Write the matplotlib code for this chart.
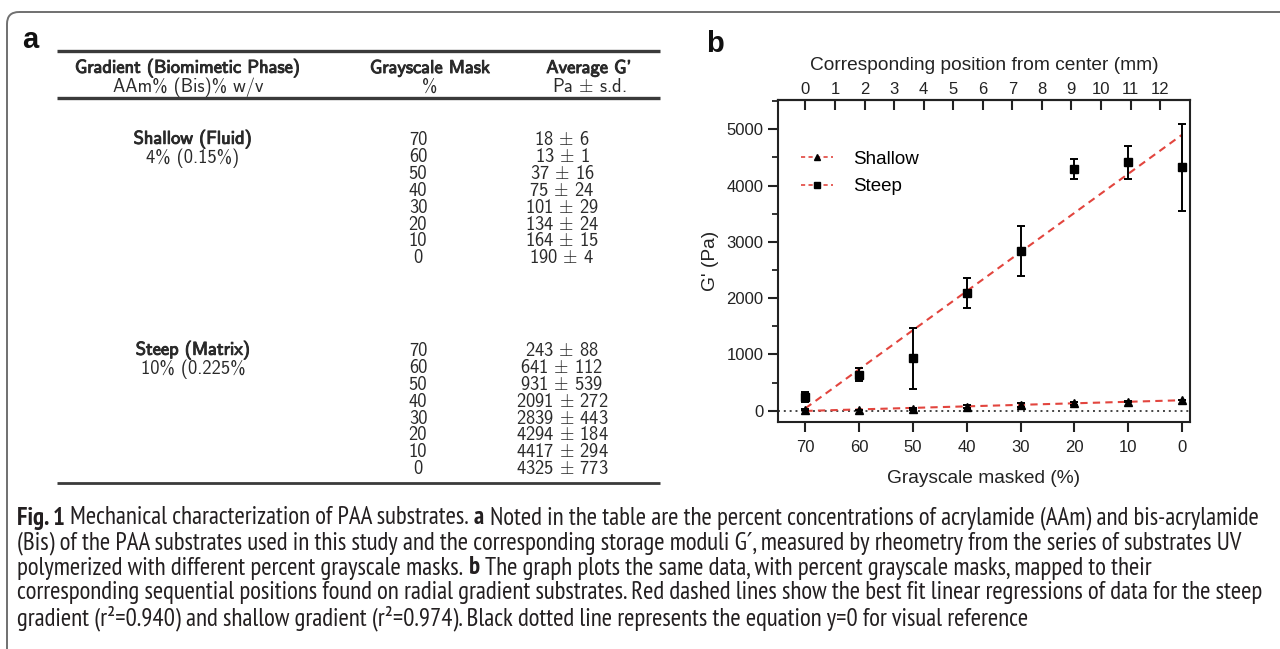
import numpy as np
import matplotlib
matplotlib.use("Agg")
import matplotlib.pyplot as plt
from matplotlib import font_manager
from matplotlib.patches import FancyBboxPatch
from matplotlib.lines import Line2D
import matplotlib.patheffects as pe
from matplotlib.ticker import MultipleLocator

# ---------------- data ----------------
masks = [70, 60, 50, 40, 30, 20, 10, 0]
shallow_mean = [18, 13, 37, 75, 101, 134, 164, 190]
shallow_sd = [6, 1, 16, 24, 29, 24, 15, 4]
steep_mean = [243, 641, 931, 2091, 2839, 4294, 4417, 4325]
steep_sd = [88, 112, 539, 272, 443, 184, 294, 773]
mm_ticks = list(range(0, 13))
y_ticks = [0, 1000, 2000, 3000, 4000, 5000]

header1 = ["Gradient (Biomimetic Phase)", "Grayscale Mask", "Average G'"]
header2 = ["AAm% (Bis)% w/v", "%", r"Pa $\pm$ s.d."]
groups = [("Shallow (Fluid)", "4% (0.15%)"), ("Steep (Matrix)", "10% (0.225%")]

caption_lines = [
    [("Fig. 1", True), ("Mechanical characterization of PAA substrates.", False), ("a", True),
     ("Noted in the table are the percent concentrations of acrylamide (AAm) and bis-acrylamide", False)],
    [("(Bis) of the PAA substrates used in this study and the corresponding storage moduli G\u2032, measured by rheometry from the series of substrates UV", False)],
    [("polymerized with different percent grayscale masks.", False), ("b", True),
     ("The graph plots the same data, with percent grayscale masks, mapped to their", False)],
    [("corresponding sequential positions found on radial gradient substrates. Red dashed lines show the best fit linear regressions of data for the steep", False)],
    [("gradient (r\u00b2=0.940) and shallow gradient (r\u00b2=0.974). Black dotted line represents the equation y=0 for visual reference", False)],
]

# ---------------- fonts ----------------
names = {f.name for f in font_manager.fontManager.ttflist}
cap_font = "Liberation Sans"
for cand in ["PT Sans Narrow", "Roboto Condensed", "Liberation Sans"]:
    if cand in names:
        cap_font = cand
        break
cap_family = [cap_font, "DejaVu Sans"]
tab_font = "cmss10" if "cmss10" in names else "DejaVu Sans"
plt.rcParams["mathtext.fontset"] = "cm"
plt.rcParams["font.family"] = ["Liberation Sans", "DejaVu Sans"]

W, H = 1280, 649
fig = plt.figure(figsize=(W / 100, H / 100), dpi=100)
bg = fig.add_axes([0, 0, 1, 1], zorder=0)
bg.set_xlim(0, W)
bg.set_ylim(H, 0)
bg.axis("off")

# outer rounded frame
bg.add_patch(FancyBboxPatch((7, 12), 1400, 800, boxstyle="round,pad=0,rounding_size=12",
                            ec="#707070", fc="none", lw=1.4))

# panel letters
bg.text(30, 40, "a", fontsize=21, fontweight="bold", ha="center", va="center", color="#111")
bg.text(715, 44, "b", fontsize=21, fontweight="bold", ha="center", va="center", color="#111")

# ---------------- table ----------------
tc = "#2a2a2a"
tfs = 13.3
bold_fx = [pe.withStroke(linewidth=0.7, foreground=tc)]
for y, lw in [(51, 2.4), (98, 2.4), (483, 2.0)]:
    bg.plot([57, 660], [y, y], color="#3a3a3a", lw=lw, solid_capstyle="butt")
col_x = [188, 430, 589]
for x, s in zip(col_x, header1):
    bg.text(x, 68, s, fontfamily=tab_font, fontsize=tfs, ha="center", va="center", color=tc,
            path_effects=bold_fx)
for x, s in zip(col_x, header2):
    bg.text(x, 87, s, fontfamily=tab_font, fontsize=tfs, ha="center", va="center", color=tc)

group_y0 = [140, 351]
row_dy = 16.9
for (gname, gconc), y0, means, sds in zip(groups, group_y0,
                                          [shallow_mean, steep_mean], [shallow_sd, steep_sd]):
    bg.text(193, y0 - 1, gname, fontfamily=tab_font, fontsize=tfs, ha="center", va="center",
            color=tc, path_effects=bold_fx)
    bg.text(193, y0 + row_dy + 1, gconc, fontfamily=tab_font, fontsize=tfs, ha="center",
            va="center", color=tc)
    for i, (m, mu, sd) in enumerate(zip(masks, means, sds)):
        y = y0 + i * row_dy
        bg.text(418, y, str(m), fontfamily=tab_font, fontsize=tfs, ha="center", va="center", color=tc)
        bg.text(562, y, f"{mu} $\\pm$ {sd}", fontfamily=tab_font, fontsize=tfs, ha="center",
                va="center", color=tc)

# ---------------- caption ----------------
renderer = fig.canvas.get_renderer()
ccol = "#231f20"
x0 = 17


def measure(s, bold, size):
    t = bg.text(0, 0, s, fontfamily=cap_family, fontsize=size,
                fontweight="bold" if bold else "normal")
    w = t.get_window_extent(renderer).width
    t.remove()
    return w


def line_width(pieces, size):
    spc = measure("x x", False, size) - measure("xx", False, size)
    return sum(measure(s, b, size) for s, b in pieces) + spc * (len(pieces) - 1)


base = 12.0
widest = max(line_width(p, base) for p in caption_lines)
cap_size = base * (1262 - x0) / widest
sp = measure("x x", False, cap_size) - measure("xx", False, cap_size)
for li, pieces in enumerate(caption_lines):
    x = x0
    y = 518 + li * 25
    for s, b in pieces:
        t = bg.text(x, y, s, fontfamily=cap_family, fontsize=cap_size,
                    fontweight="bold" if b else "normal", ha="left", va="center", color=ccol)
        x += t.get_window_extent(renderer).width + sp

# ---------------- chart ----------------
L, R, T, B = 778, 1190, 100, 422
ax = fig.add_axes([L / W, 1 - B / H, (R - L) / W, (B - T) / H], zorder=2)
ax.patch.set_alpha(0)
red = "#e2453e"
ax.axhline(0, color="#444444", ls=(0, (1, 2)), lw=1.4, zorder=1)
xs = np.array([70, 0])
for means in (steep_mean, shallow_mean):
    coef = np.polyfit(masks, means, 1)
    ax.plot(xs, np.polyval(coef, xs), color=red, ls=(0, (3.5, 2.5)), lw=1.5, zorder=2)
ax.errorbar(masks, steep_mean, yerr=steep_sd, fmt="s", color="black", ms=5.5,
            capsize=3, elinewidth=1.4, capthick=1.4, zorder=3)
ax.errorbar(masks, shallow_mean, yerr=shallow_sd, fmt="^", color="black", ms=5.5,
            capsize=3, elinewidth=1.4, capthick=1.4, zorder=3)

ax.set_xlim(75.1, -1.5)
ax.set_ylim(-200, 5520)
ax.set_xticks(masks)
ax.set_xticklabels([str(m) for m in masks])
ax.set_yticks(y_ticks)
ax.yaxis.set_minor_locator(MultipleLocator(500))
for sp_ in ax.spines.values():
    sp_.set_linewidth(1.5)
    sp_.set_color("#222")
ax.tick_params(axis="both", which="major", direction="out", length=7, width=1.5,
               labelsize=12, colors="#222")
ax.tick_params(axis="x", which="major", pad=6)
ax.tick_params(axis="y", which="minor", direction="out", length=4, width=1.3, colors="#222")
ax.set_xlabel("Grayscale masked (%)", fontsize=13.8, labelpad=11, color="#222")
ax.set_ylabel("G' (Pa)", fontsize=13.8, labelpad=5, color="#222")

sec = ax.secondary_xaxis("top", functions=(lambda g: (70 - g) * 0.182, lambda m: 70 - m / 0.182))
sec.set_xticks(mm_ticks)
sec.tick_params(direction="in", length=7, width=1.5, labelsize=12, colors="#222", pad=2)
sec.spines["top"].set_linewidth(1.5)
sec.set_xlabel("Corresponding position from center (mm)", fontsize=13.8, labelpad=9, color="#222")

handles = [Line2D([], [], color=red, ls=(0, (2.5, 2)), lw=1.2, marker="^", mfc="black",
                  mec="black", ms=5),
           Line2D([], [], color=red, ls=(0, (2.5, 2)), lw=1.2, marker="s", mfc="black",
                  mec="black", ms=5)]
ax.legend(handles, ["Shallow", "Steep"], loc="upper left", bbox_to_anchor=(0.015, 0.895),
          frameon=False, fontsize=13.5, handlelength=1.7, labelspacing=0.55, handletextpad=1.1)

fig.savefig("out.png", dpi=100)
